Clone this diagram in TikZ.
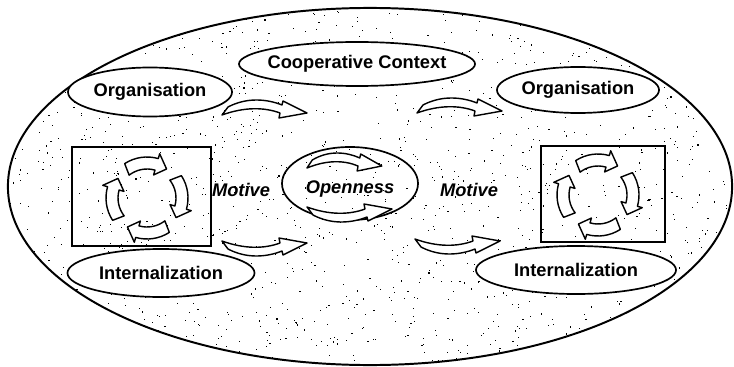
\documentclass[tikz,border=0pt]{standalone}
\usepackage{fontspec}
\setmainfont{Liberation Sans}
\usetikzlibrary{shapes.geometric}

\begin{document}
\begin{tikzpicture}
  [
    x=0.025cm, y=-0.025cm,
    Bubble/.style={ellipse, draw=black, fill=white, line width=1.2pt, inner sep=0pt, inner xsep=-0.5cm, font=\fontsize{13}{15}\selectfont\bfseries},
    Frame/.style={rectangle, draw=black, line width=1.2pt},
    Word/.style={inner sep=1pt, font=\fontsize{13}{15}\selectfont\bfseries\itshape},
    Ribbon/.style={draw=black, fill=white, line width=1pt, line join=round},
    bendarrow/.pic={
      \path[Ribbon] (0,0) -- (6,-8) .. controls (25,-18) and (45,-16) .. (60,-10) -- (61,-14) -- (85,-2) -- (57,3) -- (58,-2) .. controls (42,-8) and (22,-8) .. (0,0) -- cycle;
    }
  ]
  \useasboundingbox (0,0) rectangle (734,367);
  % Speckle
  \begin{scope}
    \clip (370,186.5) ellipse [x radius=362, y radius=178.5];
    \pgfmathsetseed{7}
    \foreach \i in {1,...,1600} \fill ({rnd*734},{rnd*367}) rectangle ++(1.1,1.1);
  \end{scope}
  % Nodes
  \node[ellipse, draw=black, line width=1.4pt, minimum width=18.1cm, minimum height=8.925cm] (context) at(370, 186.5) {};
  \node[Bubble, minimum width=4.1cm, minimum height=1.225cm] (orgL) at(150, 92) {Organisation};
  \node[Bubble, minimum width=5.9cm, minimum height=1.1cm] (coop) at(357, 64) {Cooperative Context};
  \node[Bubble, minimum width=4.05cm, minimum height=1.15cm] (orgR) at(578, 90) {Organisation};
  \node[Bubble, fill=none, minimum width=3.4cm, minimum height=1.825cm] (open) at(350, 183.5) {};
  \node[Word] (openText) at(350, 189) {Openness};
  \node[Bubble, minimum width=4.675cm, minimum height=1.2cm] (intL) at(161, 273) {Internalization};
  \node[Bubble, minimum width=5cm, minimum height=1.2cm] (intR) at(576, 270) {Internalization};
  \node[Frame, minimum width=3.475cm, minimum height=2.475cm] (boxL) at(141.5, 196.5) {};
  \node[Frame, minimum width=3.1cm, minimum height=2.4cm] (boxR) at(603, 194) {};
  \node[Word] (motiveL) at(241, 190) {Motive};
  \node[Word] (motiveR) at(469, 190) {Motive};
  \coordinate (cycleL) at(147, 198);
  \coordinate (cycleR) at(598, 195);
  % Arrows
  \pic at(222, 115) {bendarrow};
  \pic at(417, 113) {bendarrow};
  \pic[yscale=-1] at(222, 241) {bendarrow};
  \pic[yscale=-1] at(415, 239) {bendarrow};
  \pic[xscale=0.88] at(307, 168) {bendarrow};
  \pic[yscale=-1] at(307, 207) {bendarrow};
  \foreach \c in {cycleL, cycleR}
    \foreach \a in {-128, -38, 52, 142}
      \path[Ribbon, shift={(\c)}] (\a:29) -- (\a+5:41) arc[start angle=\a+5, end angle=\a+54, radius=41] -- (\a+54:46) -- (\a+72:35) -- (\a+54:24) -- (\a+54:29) arc[start angle=\a+54, end angle=\a, radius=29] -- cycle;
\end{tikzpicture}
\end{document}
